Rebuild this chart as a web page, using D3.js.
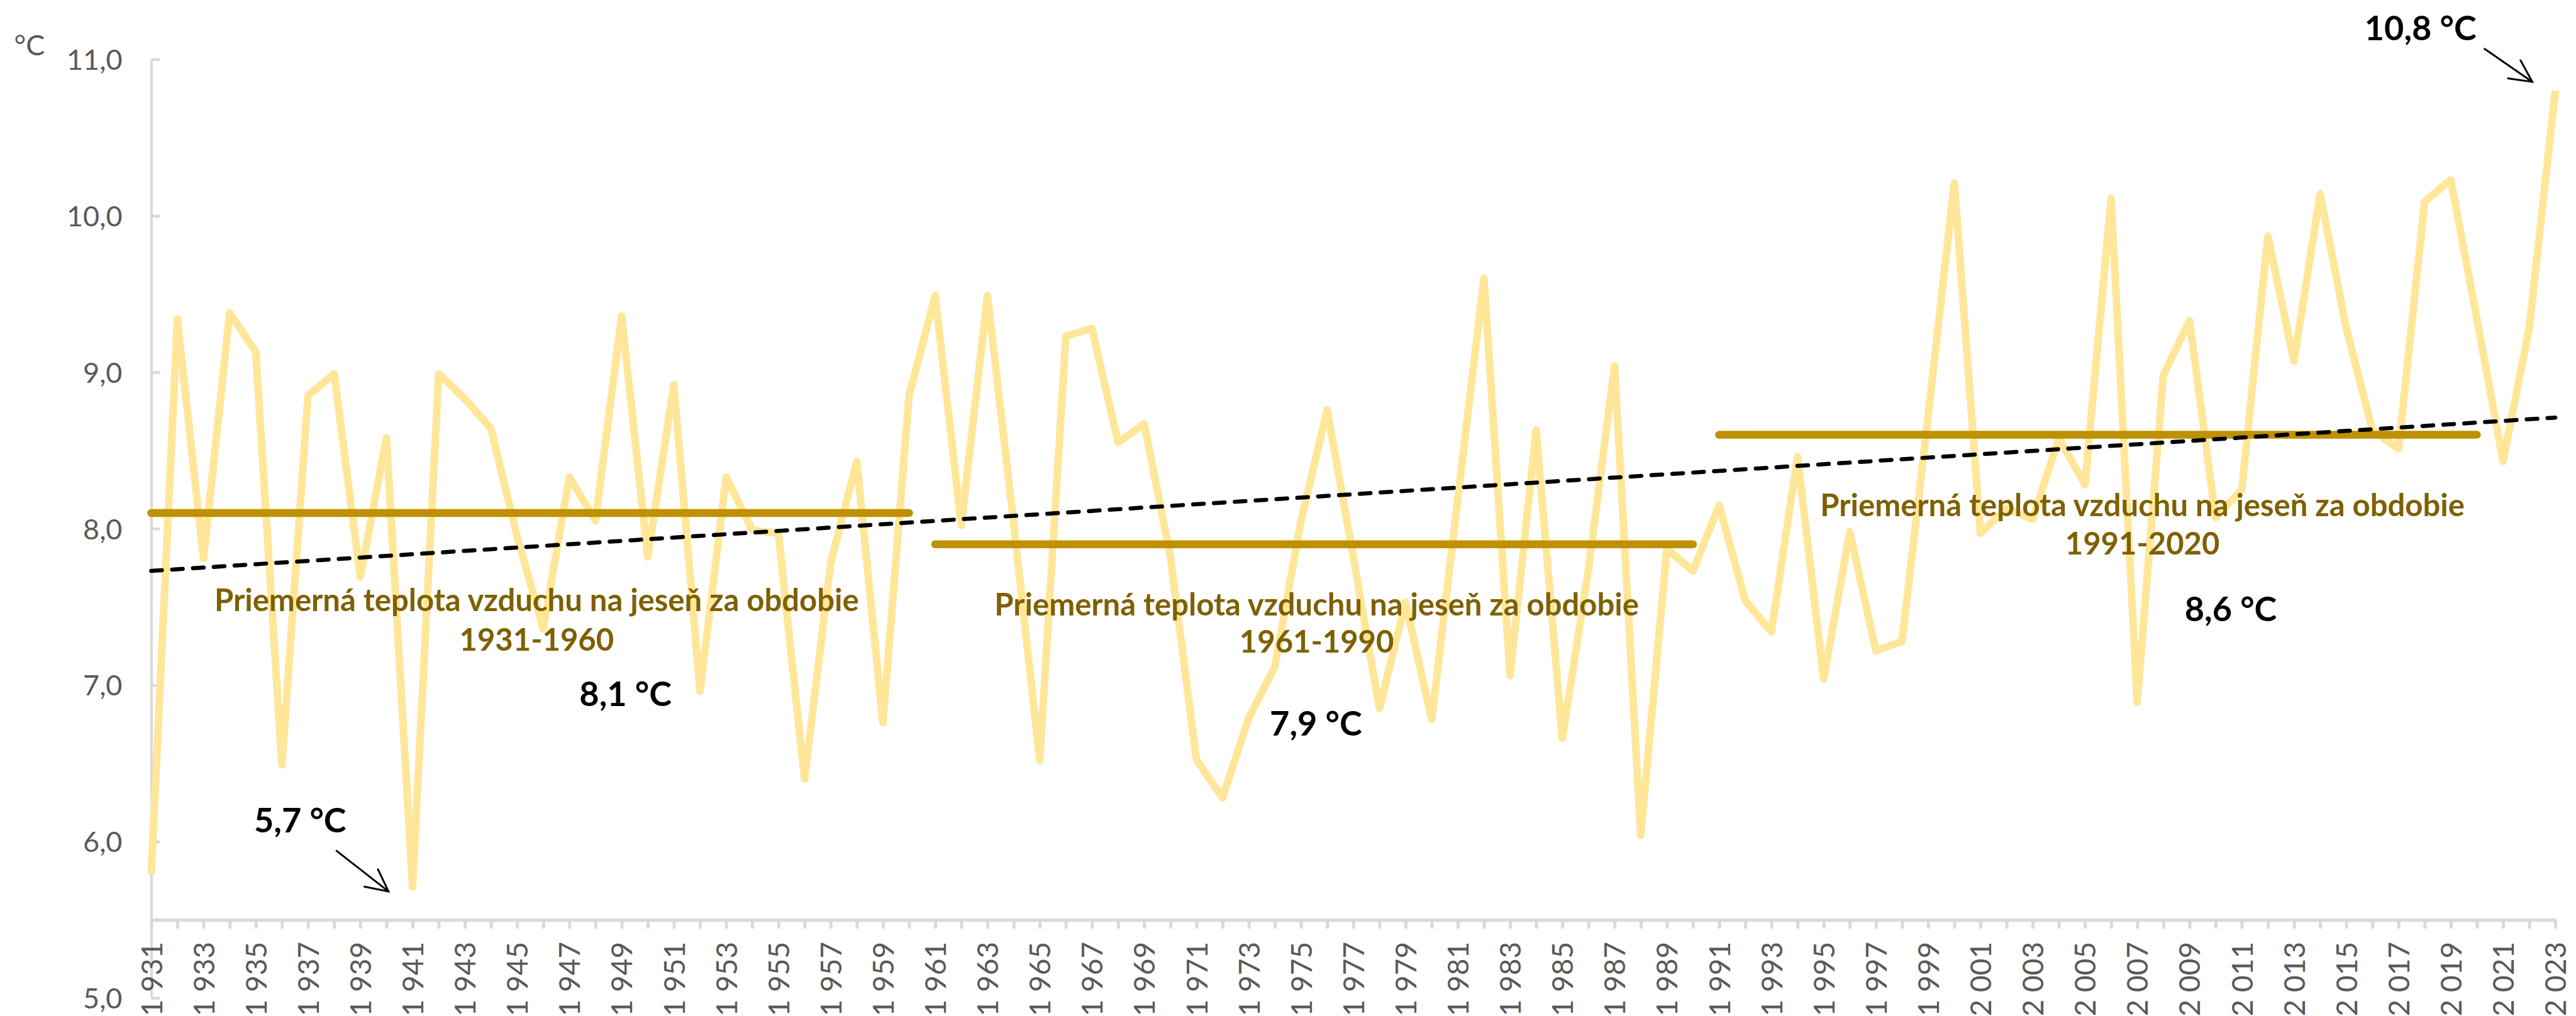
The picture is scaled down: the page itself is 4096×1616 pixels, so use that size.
<!DOCTYPE html>
<html><head><meta charset="utf-8">
<script src="https://cdn.jsdelivr.net/npm/d3@7"></script>
<style>html,body{margin:0;padding:0;background:#fff;} svg{display:block;}</style>
</head><body>
<svg id="chart" width="4096" height="1616"></svg>
<script>
// ---------- DATA ----------
const years = d3.range(1931, 2024);
const temps = [
  5.79, 9.34, 7.81, 9.38, 9.13, 6.49, 8.85, 8.99, 7.69, 8.58,
  5.71, 8.99, 8.83, 8.64, 7.95, 7.36, 8.33, 8.05, 9.36, 7.82,
  8.92, 6.96, 8.33, 7.99, 7.97, 6.40, 7.78, 8.43, 6.76, 8.85,
  9.49, 8.02, 9.49, 8.04, 6.52, 9.23, 9.28, 8.55, 8.67, 7.82,
  6.52, 6.28, 6.79, 7.12, 8.05, 8.76, 7.82, 6.85, 7.53, 6.78,
  8.19, 9.60, 7.06, 8.63, 6.66, 7.74, 9.04, 6.04, 7.87, 7.73,
  8.15, 7.54, 7.34, 8.46, 7.04, 7.98, 7.22, 7.28, 8.72, 10.21,
  7.97, 8.13, 8.06, 8.58, 8.28, 10.11, 6.89, 8.98, 9.33, 8.07,
  8.25, 9.87, 9.07, 10.14, 9.28, 8.63, 8.51, 10.09, 10.23, 9.34,
  8.43, 9.28, 10.80
];
const yTicks = [5, 6, 7, 8, 9, 10, 11];
const xTickLabelYears = years.filter((d, i) => i % 2 === 0);
const periodStart = [1931, 1961, 1991];
const periodEnd = [1960, 1990, 2020];
const periodMean = [8.1, 7.9, 8.6];
const periodNames = ["1931-1960", "1961-1990", "1991-2020"];
const periodTitle = "Priemerná teplota vzduchu na jeseň za obdobie";
const trendYears = [1931, 2023];
const trendValues = [7.73, 8.71];
const extremeYears = [1941, 2023];
const extremeValues = [5.7, 10.8];
const unitLabel = "°C";

// ---------- LAYOUT (annotation anchors in data units) ----------
const layout = {
  periodLabelX: [1945.75, 1975.6, 2007.2],
  periodLine1Y: [7.544, 7.517, 8.151],
  periodLine2Y: [7.289, 7.279, 7.906],
  meanLabelX: [1949.15, 1975.57, 2010.58],
  meanLabelY: [6.943, 6.755, 7.487],
  extremeLabelX: [1936.7, 2017.84],
  extremeLabelY: [6.138, 11.2],
  arrowFrom: [[1938.07, 5.943], [2020.27, 11.07]],
  arrowTo: [[1940.08, 5.681], [2022.12, 10.856]],
  xAxisAt: 5.5
};

// ---------- CHART ----------
const S = 0.835;
const svg = d3.select("#chart");
const x = d3.scaleLinear().domain([1931, 2023]).range([288 * S, 4866 * S]);
const y = d3.scaleLinear().domain([5, 11]).range([1901 * S, 113 * S]);
const loc = d3.formatLocale({decimal: ",", thousands: "\u00a0", grouping: [3], currency: ["", "\u00a0€"]});
const fYear = loc.format(",d"), fVal = loc.format(".1f");

const axisColor = "#D9D9D9", labelColor = "#595959";
const axisFont = "Lato, 'Open Sans', sans-serif";

// y axis
const gY = svg.append("g")
  .attr("transform", `translate(${x(1931)},0)`)
  .call(d3.axisLeft(y).tickValues(yTicks).tickFormat(fVal)
    .tickSizeInner(-14).tickSizeOuter(0).tickPadding(46));
gY.select(".domain").attr("stroke", axisColor).attr("stroke-width", 4);
gY.selectAll(".tick line").attr("stroke", axisColor).attr("stroke-width", 4.5);
gY.selectAll(".tick text").attr("fill", labelColor)
  .style("font-family", axisFont).style("font-size", "45px").attr("dy", "0.36em");

// x axis
const gX = svg.append("g")
  .attr("transform", `translate(0,${y(layout.xAxisAt)})`)
  .call(d3.axisBottom(x).tickValues(years)
    .tickFormat(d => xTickLabelYears.includes(d) ? fYear(d) : "")
    .tickSizeInner(14).tickSizeOuter(0));
gX.select(".domain").attr("stroke", axisColor).attr("stroke-width", 5.5);
gX.selectAll(".tick line").attr("stroke", axisColor).attr("stroke-width", 5);
gX.selectAll(".tick text")
  .attr("transform", "rotate(-90)")
  .attr("x", -35).attr("y", 0).attr("dy", "0.36em")
  .style("text-anchor", "end")
  .attr("fill", labelColor)
  .style("font-family", axisFont).style("font-size", "46px");

// unit label
svg.append("text").attr("x", 22.5).attr("y", 88)
  .attr("fill", labelColor).style("font-family", axisFont).style("font-size", "45px")
  .text(unitLabel);

// series line
const line = d3.line().x((d, i) => x(years[i])).y(d => y(d));
svg.append("path").datum(temps)
  .attr("d", line).attr("fill", "none")
  .attr("stroke", "#FFE699").attr("stroke-width", 12)
  .attr("stroke-linejoin", "round");

// period means
svg.selectAll(".period").data(periodMean).enter().append("line")
  .attr("class", "period")
  .attr("x1", (d, i) => x(periodStart[i])).attr("x2", (d, i) => x(periodEnd[i]))
  .attr("y1", d => y(d)).attr("y2", d => y(d))
  .attr("stroke", "#BF9000").attr("stroke-width", 12.5).attr("stroke-linecap", "round");

// trend
svg.append("line")
  .attr("x1", x(trendYears[0])).attr("y1", y(trendYears.length ? trendValues[0] : 0))
  .attr("x2", x(trendYears[1])).attr("y2", y(trendValues[1]))
  .attr("stroke", "#000").attr("stroke-width", 6.5)
  .attr("stroke-linecap", "round").attr("stroke-dasharray", "17,16.2");

// period labels
const boldFont = "Lato, 'Open Sans', sans-serif";
periodMean.forEach((m, i) => {
  svg.append("text").attr("x", x(layout.periodLabelX[i])).attr("y", y(layout.periodLine1Y[i]))
    .attr("dy", "0.36em").attr("text-anchor", "middle")
    .attr("fill", "#7F6000").style("font-family", boldFont).style("font-weight", "bold").style("font-size", "49px")
    .text(periodTitle);
  svg.append("text").attr("x", x(layout.periodLabelX[i])).attr("y", y(layout.periodLine2Y[i]))
    .attr("dy", "0.36em").attr("text-anchor", "middle")
    .attr("fill", "#7F6000").style("font-family", boldFont).style("font-weight", "bold").style("font-size", "49px")
    .text(periodNames[i]);
  svg.append("text").attr("x", x(layout.meanLabelX[i])).attr("y", y(layout.meanLabelY[i]))
    .attr("dy", "0.36em").attr("text-anchor", "middle")
    .attr("fill", "#000").style("font-family", boldFont).style("font-weight", "bold").style("font-size", "54px")
    .text(fVal(m) + " °C");
});

// extremes
extremeValues.forEach((v, i) => {
  svg.append("text").attr("x", x(layout.extremeLabelX[i])).attr("y", y(layout.extremeLabelY[i]))
    .attr("dy", "0.36em").attr("text-anchor", "middle")
    .attr("fill", "#000").style("font-family", boldFont).style("font-weight", "bold").style("font-size", "54px")
    .text(fVal(v) + " °C");
});

// arrows
const defs = svg.append("defs");
defs.append("marker").attr("id", "arrowHead")
  .attr("markerUnits", "userSpaceOnUse")
  .attr("viewBox", "-40 -22 44 44").attr("refX", 0).attr("refY", 0)
  .attr("markerWidth", 44).attr("markerHeight", 44).attr("orient", "auto")
  .append("path").attr("d", "M-36,-18 L0,0 L-36,18")
  .attr("fill", "none").attr("stroke", "#000").attr("stroke-width", 3);
layout.arrowFrom.forEach((f, i) => {
  const t = layout.arrowTo[i];
  svg.append("line")
    .attr("x1", x(f[0])).attr("y1", y(f[1]))
    .attr("x2", x(t[0])).attr("y2", y(t[1]))
    .attr("stroke", "#000").attr("stroke-width", 3)
    .attr("marker-end", "url(#arrowHead)");
});
</script>
</body></html>
